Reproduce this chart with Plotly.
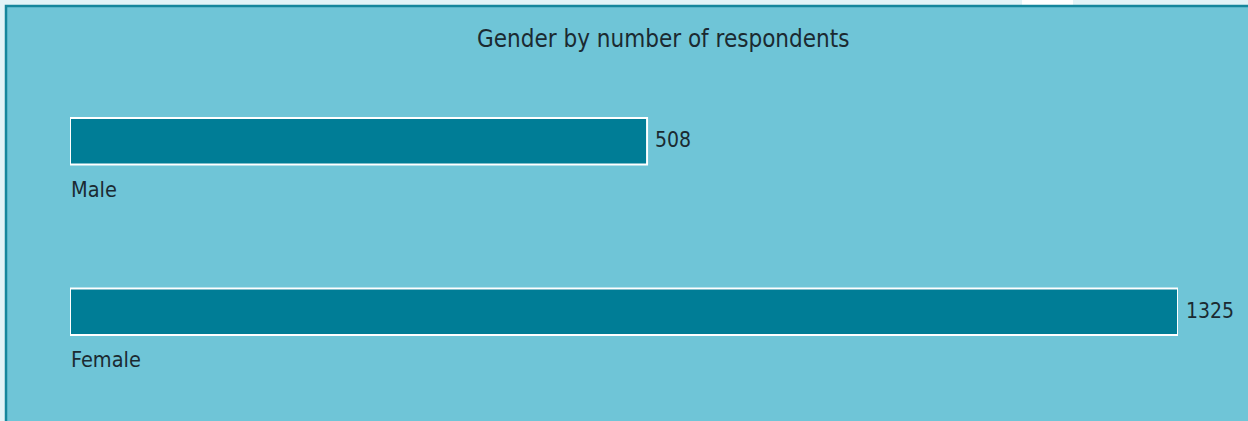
import plotly.graph_objects as go

# ---- data ----
categories = ["Male", "Female"]
respondents = [508, 1325]
title_text = "Gender by number of respondents"

# ---- layout constants ----
W, H = 1248, 421
ML, MR, MT, MB = 70, 70, 56, 24
PW, PH = W - ML - MR, H - MT - MB
AXIS_MIN = -380          # axis start (bars start at the axis edge)
AXIS_MAX = 1325

BG = "#6fc5d7"
OUTER = "#e2f3f7"
EDGE = "#15869c"
BAR = "#007d96"
TXT = "#1b2a31"
FONT = "Liberation Sans Narrow, DejaVu Sans Condensed, Roboto, sans-serif"


def px_x(px):
    return (px - ML) / PW


def px_y(py):
    return (H - MB - py) / PH


fig = go.Figure()
fig.add_trace(go.Bar(
    x=[v - AXIS_MIN for v in respondents],
    base=[AXIS_MIN] * len(respondents),
    y=categories,
    orientation="h",
    marker=dict(color=BAR, line=dict(color="#ffffff", width=2)),
    width=0.272,
    cliponaxis=False,
    hoverinfo="skip",
))

annotations = []
for c, v in zip(categories, respondents):
    annotations.append(dict(
        x=v, y=c, xref="x", yref="y", text=str(v), showarrow=False,
        xanchor="left", yanchor="middle", xshift=6, yshift=1,
        font=dict(family=FONT, size=21, color=TXT),
    ))
    annotations.append(dict(
        x=AXIS_MIN, y=c, xref="x", yref="y", text=c, showarrow=False,
        xanchor="left", yanchor="middle", xshift=-1, yshift=-48,
        font=dict(family=FONT, size=21.5, color=TXT),
    ))
annotations.append(dict(
    x=px_x(662.5), y=px_y(39), xref="paper", yref="paper", text=title_text,
    showarrow=False, xanchor="center", yanchor="middle",
    font=dict(family=FONT, size=24, color=TXT),
))

shapes = [
    # outer light strip (top & left) and inner panel
    dict(type="rect", xref="paper", yref="paper", layer="below",
         x0=px_x(-10), x1=px_x(W + 10), y0=px_y(H + 10), y1=px_y(-10),
         fillcolor=OUTER, line=dict(width=0)),
    dict(type="rect", xref="paper", yref="paper", layer="below",
         x0=px_x(1022), x1=px_x(1073), y0=px_y(5), y1=px_y(-10),
         fillcolor="#ffffff", line=dict(width=0)),
    dict(type="rect", xref="paper", yref="paper", layer="below",
         x0=px_x(6), x1=px_x(W + 20), y0=px_y(H + 20), y1=px_y(6),
         fillcolor=BG, line=dict(color=EDGE, width=2.5)),
]

fig.update_layout(
    width=W, height=H,
    margin=dict(l=ML, r=MR, t=MT, b=MB, pad=0, autoexpand=False),
    paper_bgcolor=BG, plot_bgcolor="rgba(0,0,0,0)",
    showlegend=False,
    xaxis=dict(range=[AXIS_MIN, AXIS_MAX], visible=False, fixedrange=True),
    yaxis=dict(range=[1.5, -0.5], visible=False, fixedrange=True,
               categoryorder="array", categoryarray=categories),
    annotations=annotations,
    shapes=shapes,
)

fig.write_html(
    "out.html",
    config={"displayModeBar": False},
    post_script="document.body.style.margin='0';document.body.style.overflow='hidden';",
)
